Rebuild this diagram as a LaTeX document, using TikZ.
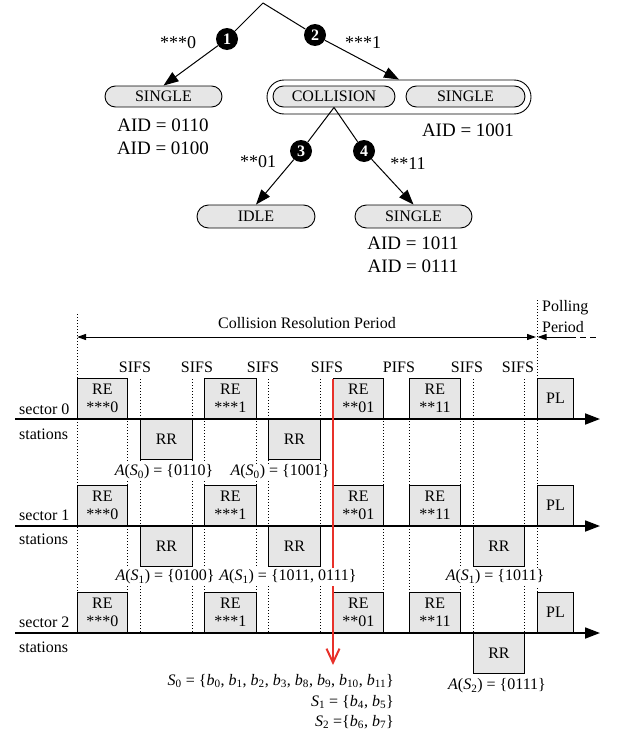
\documentclass[tikz,border=0pt]{standalone}
\usepackage{fontspec}
\setmainfont{Liberation Serif}
\usetikzlibrary{arrows.meta}
\definecolor{boxgray}{HTML}{E6E6E6}
\definecolor{redline}{HTML}{E8312A}
\newcommand{\bsub}[1]{\textit{b}\textsubscript{#1}}
\newcommand{\ssub}[1]{\textit{S}\textsubscript{#1}}
\newcommand{\aset}[2]{\textit{A}(\ssub{#1}) = \{#2\}}
\tikzset{
  tbox/.style={draw, fill=boxgray, line width=0.9pt, rounded corners=10.5pt, minimum height=21pt, inner sep=0pt, font=\fontsize{16}{18}\selectfont},
  obox/.style={draw, fill=white, line width=0.9pt, rounded corners=17pt, minimum height=34pt, minimum width=264pt, inner sep=0pt},
  num/.style={circle, fill=black, minimum size=22pt, inner sep=0pt, text=white, font=\fontsize{16}{16}\selectfont\bfseries},
  tline/.style={line width=1pt},
  tarrow/.style={line width=1pt, -{Triangle[length=15pt,width=11pt]}},
  blab/.style={inner sep=0pt, font=\fontsize{18}{20}\selectfont},
  aid/.style={inner sep=0pt, font=\fontsize{19}{22}\selectfont},
  lab/.style={inner sep=0pt, font=\fontsize{16}{18}\selectfont},
  alab/.style={lab, fill=white, inner sep=1.5pt},
  rebox/.style={draw, fill=boxgray, line width=0.9pt, minimum height=40pt, inner sep=0pt, anchor=south west, align=center, font=\fontsize{16}{18}\selectfont},
  rrbox/.style={rebox, anchor=north west},
  dotline/.style={line width=0.9pt, dash pattern=on 1.2pt off 1.8pt},
  axisline/.style={line width=1.8pt, -{Triangle[length=15pt,width=11pt]}},
  perarrow/.style={line width=1pt, {Triangle[length=9pt,width=6pt]}-{Triangle[length=9pt,width=6pt]}},
  redarrow/.style={redline, line width=2pt, -{Straight Barb[length=14pt,width=13pt,line width=2pt]}}
}
\begin{document}
\begin{tikzpicture}[x=1pt,y=-1pt]
\useasboundingbox (0,0) rectangle (616,736);

% ---------------- tree ----------------
\coordinate (apex) at (263,3);
\node[tbox, minimum width=117pt] (sgl1) at (163.5,96.5) {SINGLE};
\node[obox] (outer) at (399,97) {};
\node[tbox, minimum width=122pt] (coll) at (334,96.5) {COLLISION};
\node[tbox, minimum width=119pt] (sgl2) at (465.5,96.5) {SINGLE};
\node[tbox, minimum width=118pt, minimum height=23pt, rounded corners=11.5pt] (idle) at (256,216.5) {IDLE};
\node[tbox, minimum width=117pt, minimum height=23pt, rounded corners=11.5pt] (sgl3) at (413.5,216.5) {SINGLE};

\node[num] (n1) at (227,39) {1};
\node[num] (n2) at (315,35) {2};
\node[num] (n3) at (301,151) {3};
\node[num] (n4) at (364,151) {4};

\draw[tline] (apex) -- (n1);
\draw[tline] (apex) -- (n2);
\draw[tarrow] (n1) -- (sgl1.north);
\draw[tarrow] (n2) -- (outer.north);
\draw[tline] (coll.south) -- (n3);
\draw[tline] (coll.south) -- (n4);
\draw[tarrow] (n3) -- (idle.north);
\draw[tarrow] (n4) -- (sgl3.north);

\node[blab] (b1) at (178,43) {***0};
\node[blab] (b2) at (363,43) {***1};
\node[blab] (b3) at (258,162) {**01};
\node[blab] (b4) at (408,164) {**11};

\node[aid] (aid1) at (163,125) {AID = 0110};
\node[aid] (aid2) at (163,148) {AID = 0100};
\node[aid] (aid3) at (468,130) {AID = 1001};
\node[aid] (aid4) at (413,243) {AID = 1011};
\node[aid] (aid5) at (413,266) {AID = 0111};

% ---------------- timeline ----------------
\foreach \x in {127,140,192,204,256,268,320,383,409,460,473,524}
  \draw[dotline] (\x,379) -- (\x,633);
\draw[dotline] (77,314) -- (77,633);
\draw[dotline] (537,300) -- (537,633);

\coordinate (pl) at (77,337);
\coordinate (pr) at (536,337);
\draw[perarrow] (pl) -- (pr);
\node[lab] (crp) at (307,323) {Collision Resolution Period};
\coordinate (ppa) at (537.5,337);
\coordinate (ppb) at (570,337);
\coordinate (ppc) at (597,337);
\draw[line width=1pt, {Triangle[length=9pt,width=6pt]}-] (ppa) -- (ppb);
\draw[line width=1pt, dash pattern=on 6pt off 4pt] (ppb) -- (ppc);
\node[lab, anchor=west] (pol1) at (542,308) {Polling};
\node[lab, anchor=west] (pol2) at (542,327) {Period};

\node[lab] (s1) at (135,367) {SIFS};
\node[lab] (s2) at (197,367) {SIFS};
\node[lab] (s3) at (263,367) {SIFS};
\node[lab] (s4) at (327,367) {SIFS};
\node[lab] (s5) at (399,367) {PIFS};
\node[lab] (s6) at (467,367) {SIFS};
\node[lab] (s7) at (518,367) {SIFS};

% sector 0
\node[rebox, minimum width=50pt] (a1) at (77,419) {RE\\***0};
\node[rebox, minimum width=52pt] (a2) at (204,419) {RE\\***1};
\node[rebox, minimum width=50pt] (a3) at (333,419) {RE\\**01};
\node[rebox, minimum width=51pt] (a4) at (409,419) {RE\\**11};
\node[rebox, minimum width=36pt] (a5) at (537,419) {PL};
\node[rrbox, minimum width=52pt] (ar1) at (140,419) {RR};
\node[rrbox, minimum width=52pt] (ar2) at (268,419) {RR};
\coordinate (ax0l) at (15,419);
\coordinate (ax0r) at (600,419);
\draw[axisline] (ax0l) -- (ax0r);
\node[lab, anchor=west] (sec0) at (19,409) {sector 0};
\node[lab, anchor=west] (st0) at (19,434) {stations};

% sector 1
\node[rebox, minimum width=50pt] (b1r) at (77,526) {RE\\***0};
\node[rebox, minimum width=52pt] (b2r) at (204,526) {RE\\***1};
\node[rebox, minimum width=50pt] (b3r) at (333,526) {RE\\**01};
\node[rebox, minimum width=51pt] (b4r) at (409,526) {RE\\**11};
\node[rebox, minimum width=36pt] (b5r) at (537,526) {PL};
\node[rrbox, minimum width=52pt] (br1) at (140,526) {RR};
\node[rrbox, minimum width=52pt] (br2) at (268,526) {RR};
\node[rrbox, minimum width=51pt] (br3) at (473,526) {RR};
\coordinate (ax1l) at (15,526);
\coordinate (ax1r) at (600,526);
\draw[axisline] (ax1l) -- (ax1r);
\node[lab, anchor=west] (sec1) at (19,515) {sector 1};
\node[lab, anchor=west] (st1) at (19,539) {stations};

% sector 2
\node[rebox, minimum width=50pt] (c1r) at (77,633) {RE\\***0};
\node[rebox, minimum width=52pt] (c2r) at (204,633) {RE\\***1};
\node[rebox, minimum width=50pt] (c3r) at (333,633) {RE\\**01};
\node[rebox, minimum width=51pt] (c4r) at (409,633) {RE\\**11};
\node[rebox, minimum width=36pt] (c5r) at (537,633) {PL};
\node[rrbox, minimum width=51pt] (cr3) at (473,633) {RR};
\coordinate (ax2l) at (15,633);
\coordinate (ax2r) at (600,633);
\draw[axisline] (ax2l) -- (ax2r);
\node[lab, anchor=west] (sec2) at (19,622) {sector 2};
\node[lab, anchor=west] (st2) at (19,647) {stations};

% red marker
\coordinate (rtop) at (333,379);
\coordinate (rbot) at (333,665);
\draw[redarrow] (rtop) -- (rbot);

% address sets (white background hides the lines behind)
\node[alab] (as01) at (164,472) {\aset{0}{0110}};
\node[alab, inner sep=1pt] (as02) at (280,472) {\aset{0}{1001}};
\node[alab] (as11) at (165,577) {\aset{1}{0100}};
\node[alab] (as12) at (288,577) {\aset{1}{1011, 0111}};
\node[alab] (as13) at (495,577) {\aset{1}{1011}};
\node[alab] (as21) at (497,686) {\aset{2}{0111}};

\node[lab, anchor=east] (set0) at (394,681) {\ssub{0} = \{\bsub{0}, \bsub{1}, \bsub{2}, \bsub{3}, \bsub{8}, \bsub{9}, \bsub{10}, \bsub{11}\}};
\node[lab, anchor=east] (set1) at (394,702) {\ssub{1} = \{\bsub{4}, \bsub{5}\}};
\node[lab, anchor=east] (set2) at (394,722) {\ssub{2} =\{\bsub{6}, \bsub{7}\}};
\end{tikzpicture}
\end{document}
